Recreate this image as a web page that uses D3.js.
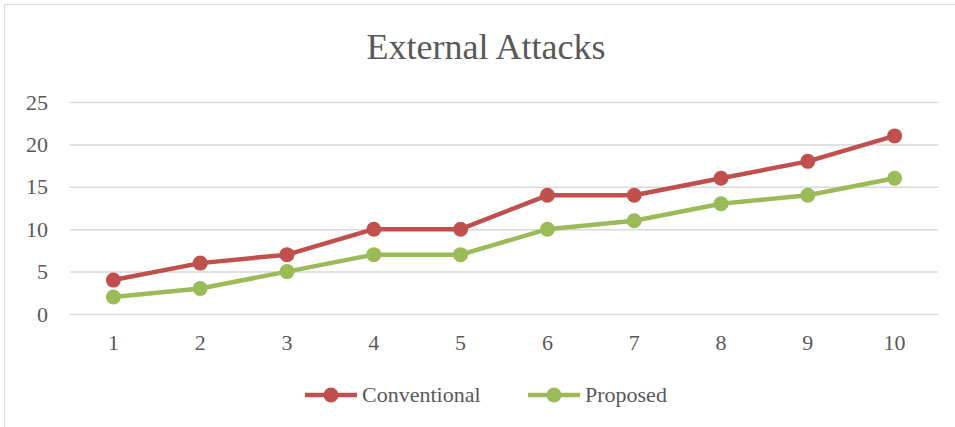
<!DOCTYPE html>
<html>
<head>
<meta charset="utf-8">
<script src="https://cdn.jsdelivr.net/npm/d3@7"></script>
<style>
  html, body { margin: 0; padding: 0; background: #fff; overflow: hidden; }
</style>
</head>
<body>
<svg id="chart" width="955" height="427"></svg>
<script>
const categories = ["1", "2", "3", "4", "5", "6", "7", "8", "9", "10"];
const conventional = [4, 6, 7, 10, 10, 14, 14, 16, 18, 21];
const proposed = [2, 3, 5, 7, 7, 10, 11, 13, 14, 16];
const yTicks = [0, 5, 10, 15, 20, 25];

const width = 955;
const height = 427;
const marginLeft = 70;
const marginRight = 17;
const marginTop = 102;
const plotBottom = 314;
const font = "'Liberation Serif', 'Times New Roman', serif";
const textColor = "#595959";

const series = [
  { name: "Conventional", values: conventional, color: "#C0504D" },
  { name: "Proposed", values: proposed, color: "#9BBB59" },
];

const svg = d3.select("#chart");

// outer chart frame
svg.append("rect")
  .attr("x", 4.5)
  .attr("y", 4.5)
  .attr("width", 1000)
  .attr("height", 600)
  .attr("fill", "#fff")
  .attr("stroke", "#d9d9d9")
  .attr("stroke-width", 1);

const x = d3.scaleBand()
  .domain(categories)
  .range([marginLeft, width - marginRight]);

const y = d3.scaleLinear()
  .domain([0, 25])
  .range([plotBottom, marginTop]);

// gridlines + y labels
svg.append("g")
  .attr("transform", `translate(${marginLeft},0)`)
  .call(d3.axisLeft(y).tickValues(yTicks).tickSize(-(width - marginLeft - marginRight)).tickPadding(22))
  .call((g) => g.select(".domain").remove())
  .call((g) => g.selectAll(".tick line").attr("stroke", "#d9d9d9").attr("stroke-width", 1.5))
  .call((g) => g.selectAll(".tick text")
    .attr("fill", textColor)
    .style("font-family", font)
    .style("font-size", "22px"));

// x labels
svg.append("g")
  .attr("transform", `translate(0,${plotBottom})`)
  .call(d3.axisBottom(x).tickSize(0).tickPadding(20))
  .call((g) => g.select(".domain").remove())
  .call((g) => g.selectAll(".tick text")
    .attr("fill", textColor)
    .style("font-family", font)
    .style("font-size", "22px"));

const line = d3.line()
  .x((d, i) => x(categories[i]) + x.bandwidth() / 2)
  .y((d) => y(d));

series.forEach((s) => {
  svg.append("path")
    .datum(s.values)
    .attr("fill", "none")
    .attr("stroke", s.color)
    .attr("stroke-width", 4.5)
    .attr("stroke-linejoin", "round")
    .attr("d", line);

  svg.append("g")
    .selectAll("circle")
    .data(s.values)
    .join("circle")
    .attr("cx", (d, i) => x(categories[i]) + x.bandwidth() / 2)
    .attr("cy", (d) => y(d))
    .attr("r", 7.5)
    .attr("fill", s.color);
});

// title
svg.append("text")
  .attr("x", 486)
  .attr("y", 59)
  .attr("text-anchor", "middle")
  .attr("fill", textColor)
  .style("font-family", font)
  .style("font-size", "36px")
  .text("External Attacks");

// legend
const legendPos = [305, 528];
series.forEach((s, i) => {
  const lg = svg.append("g").attr("transform", `translate(${legendPos[i]},395)`);
  lg.append("line")
    .attr("x1", 0)
    .attr("x2", 52)
    .attr("stroke", s.color)
    .attr("stroke-width", 4.5);
  lg.append("circle")
    .attr("cx", 26)
    .attr("r", 7.5)
    .attr("fill", s.color);
  lg.append("text")
    .attr("x", 57)
    .attr("y", 7)
    .attr("fill", textColor)
    .style("font-family", font)
    .style("font-size", "22px")
    .text(s.name);
});
</script>
</body>
</html>
